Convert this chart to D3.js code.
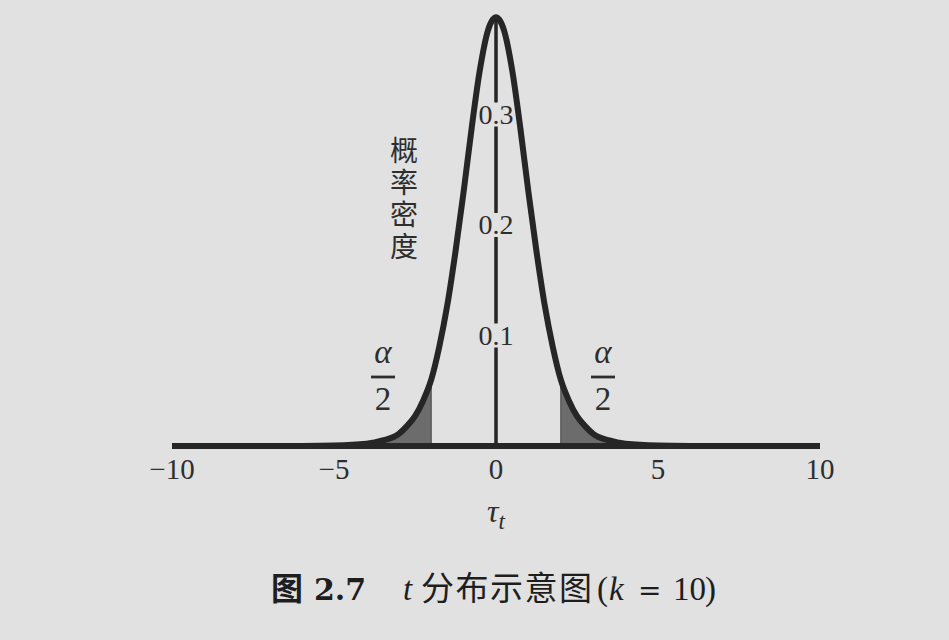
<!DOCTYPE html>
<html>
<head>
<meta charset="utf-8">
<script src="https://cdn.jsdelivr.net/npm/d3@7"></script>
<style>
  html, body { margin: 0; padding: 0; background: #e1e1e1; }
  svg { display: block; }
</style>
</head>
<body>
<script>
// ---- data ----
const tValues = [-10, -8, -6, -5, -4, -3.5, -3, -2.75, -2.5, -2.25, -2, -1.75, -1.5, -1.25, -1, -0.75, -0.5, -0.25,
                 0, 0.25, 0.5, 0.75, 1, 1.25, 1.5, 1.75, 2, 2.25, 2.5, 2.75, 3, 3.5, 4, 5, 6, 8, 10];
const density = [0.000, 0.000, 0.0001, 0.0004, 0.002, 0.005, 0.011, 0.018, 0.027, 0.041, 0.060, 0.090, 0.128, 0.176, 0.230, 0.288, 0.340, 0.376,
                 0.388, 0.376, 0.340, 0.288, 0.230, 0.176, 0.128, 0.090, 0.060, 0.041, 0.027, 0.018, 0.011, 0.005, 0.002, 0.0004, 0.0001, 0.000, 0.000];
const xTicks = [-10, -5, 0, 5, 10];
const yTicks = [0.1, 0.2, 0.3];
const criticalValue = 2;
const yLabelText = "概率密度";

const W = 949, H = 640;
const bg = "#e1e1e1";
const ink = "#262626";
const textInk = "#2e2e2e";
const serif = "'Liberation Serif', 'DejaVu Serif', serif";
const cjk = "'Noto Sans CJK SC', sans-serif";

const svg = d3.select("body").append("svg").attr("width", W).attr("height", H);
svg.append("rect").attr("width", W).attr("height", H).attr("fill", bg);

const x = d3.scaleLinear().domain([-10, 10]).range([172, 820]);
const y = d3.scaleLinear().domain([0, 0.4]).range([446, 4]);

const pts = tValues.map((t, i) => ({ t, d: density[i] }));

// shaded tails (area under the curve clipped to |t| >= critical value)
const defs = svg.append("defs");
const clip = defs.append("clipPath").attr("id", "tails");
clip.append("rect").attr("x", x(-10)).attr("y", 0)
  .attr("width", x(-criticalValue) - x(-10)).attr("height", y(0));
clip.append("rect").attr("x", x(criticalValue)).attr("y", 0)
  .attr("width", x(10) - x(criticalValue)).attr("height", y(0));

const area = d3.area().x(d => x(d.t)).y0(y(0)).y1(d => y(d.d)).curve(d3.curveMonotoneX);
svg.append("path").datum(pts).attr("d", area)
  .attr("fill", "#6c6c6c").attr("clip-path", "url(#tails)");

// tail boundary lines
[-criticalValue, criticalValue].forEach(c => {
  const i = tValues.indexOf(c);
  svg.append("line").attr("x1", x(c)).attr("x2", x(c))
    .attr("y1", y(0)).attr("y2", y(density[i]))
    .attr("stroke", "#555").attr("stroke-width", 1.2);
});

// vertical axis at t = 0
const peak = d3.max(density);
svg.append("line").attr("x1", x(0)).attr("x2", x(0))
  .attr("y1", y(0)).attr("y2", y(peak))
  .attr("stroke", ink).attr("stroke-width", 3.5);

// y tick labels, breaking the axis line
const yt = svg.append("g");
yTicks.forEach(v => {
  yt.append("rect").attr("x", x(0) - 21).attr("y", y(v) - 12).attr("width", 42).attr("height", 24)
    .attr("fill", bg);
  yt.append("text").attr("x", x(0)).attr("y", y(v) + 9)
    .attr("text-anchor", "middle").attr("font-family", serif).attr("font-size", 28)
    .attr("fill", textInk).text(v.toFixed(1));
});

// density curve
const line = d3.line().x(d => x(d.t)).y(d => y(d.d)).curve(d3.curveMonotoneX);
svg.append("path").datum(pts).attr("d", line)
  .attr("fill", "none").attr("stroke", ink).attr("stroke-width", 6)
  .attr("stroke-linejoin", "round");

// horizontal axis
svg.append("line").attr("x1", x(-10)).attr("x2", x(10))
  .attr("y1", y(0)).attr("y2", y(0))
  .attr("stroke", ink).attr("stroke-width", 6);

// x tick labels
svg.append("g").selectAll("text").data(xTicks).join("text")
  .attr("x", d => x(d)).attr("y", y(0) + 33)
  .attr("text-anchor", "middle").attr("font-family", serif).attr("font-size", 29)
  .attr("fill", textInk)
  .text(d => d < 0 ? "\u2212" + Math.abs(d) : String(d));

// x axis title tau_t
const xt = svg.append("text").attr("x", x(0)).attr("y", 522)
  .attr("text-anchor", "middle").attr("font-family", serif).attr("fill", textInk);
xt.append("tspan").attr("font-style", "italic").attr("font-size", 32).text("τ");
xt.append("tspan").attr("font-style", "italic").attr("font-size", 23).attr("dy", 7).text("t");

// y axis title, vertical characters
svg.append("text").attr("x", 404).attr("y", 136)
  .attr("writing-mode", "vertical-rl")
  .attr("font-family", cjk).attr("font-size", 28).attr("letter-spacing", 4)
  .attr("fill", textInk).text(yLabelText);

// alpha/2 labels
[-1, 1].forEach(s => {
  const cx = s < 0 ? 383 : 603;
  const g = svg.append("g");
  g.append("text").attr("x", cx).attr("y", 363).attr("text-anchor", "middle")
    .attr("font-family", serif).attr("font-style", "italic").attr("font-size", 33)
    .attr("fill", textInk).text("α");
  g.append("line").attr("x1", cx - 12).attr("x2", cx + 12).attr("y1", 377).attr("y2", 377)
    .attr("stroke", textInk).attr("stroke-width", 2.8);
  g.append("text").attr("x", cx).attr("y", 410).attr("text-anchor", "middle")
    .attr("font-family", serif).attr("font-size", 33)
    .attr("fill", textInk).text("2");
});

// caption
const cap = svg.append("text").attr("y", 600).attr("fill", "#1e1e1e");
cap.append("tspan").attr("x", 271).attr("font-family", cjk).attr("font-weight", "bold").attr("font-size", 32).text("图");
cap.append("tspan").attr("x", 314).attr("font-family", "'DejaVu Serif', serif").attr("font-weight", "bold").attr("font-size", 30).text("2.7");
cap.append("tspan").attr("x", 403).attr("font-family", serif).attr("font-style", "italic").attr("font-size", 33).text("t");
cap.append("tspan").attr("x", 421).attr("font-family", cjk).attr("font-size", 33).attr("letter-spacing", 1.5).text("分布示意图");
cap.append("tspan").attr("x", 597).attr("font-family", serif).attr("font-size", 33).text("(");
cap.append("tspan").attr("x", 609).attr("font-family", serif).attr("font-style", "italic").attr("font-size", 33).text("k");
cap.append("tspan").attr("x", 638).attr("font-family", "'DejaVu Serif', serif").attr("font-size", 28).text("=");
cap.append("tspan").attr("x", 673).attr("font-family", serif).attr("font-size", 33).text("10");
cap.append("tspan").attr("x", 705).attr("font-family", serif).attr("font-size", 33).text(")");
</script>
</body>
</html>
